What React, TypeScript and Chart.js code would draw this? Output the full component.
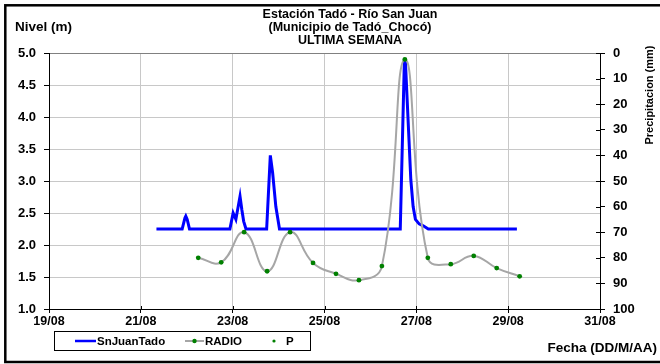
import React, { useEffect, useRef } from "react";
import { Chart, registerables } from "chart.js";

Chart.register(...registerables);

// ---- Texts ----
const titleLines = ["Estación Tadó - Río San Juan", "(Municipio de Tadó_Chocó)", "ULTIMA SEMANA"];
const leftAxisTitle = "Nivel (m)";
const rightAxisTitle = "Precipitacion (mm)";
const bottomAxisTitle = "Fecha (DD/M/AA)";

// ---- Tick labels ----
const dateTickDays = [19, 21, 23, 25, 27, 29, 31];
const dateTickLabels = ["19/08", "21/08", "23/08", "25/08", "27/08", "29/08", "31/08"];
const levelTickValues = [1, 1.5, 2, 2.5, 3, 3.5, 4, 4.5, 5];
const levelTickLabels = ["1.0", "1.5", "2.0", "2.5", "3.0", "3.5", "4.0", "4.5", "5.0"];
const precipTickValues = [0, 10, 20, 30, 40, 50, 60, 70, 80, 90, 100];
const precipTickLabels = ["0", "10", "20", "30", "40", "50", "60", "70", "80", "90", "100"];

// ---- Series: SnJuanTado (x = day of August, y = level m) ----
const levelDays = [
  21.34, 21.9, 21.96, 21.98, 22.01, 22.06,
  22.94, 23.01, 23.07, 23.16, 23.2, 23.24, 23.29,
  23.74, 23.82, 23.87, 23.94, 24.02,
  26.65, 26.74, 26.76, 26.88, 26.93, 26.98, 27.06, 27.15, 27.26, 29.19,
];
const levelValues = [
  2.25, 2.25, 2.42, 2.45, 2.4, 2.25,
  2.25, 2.5, 2.4, 2.76, 2.55, 2.37, 2.25,
  2.25, 3.4, 3.13, 2.6, 2.25,
  2.25, 4.9, 4.9, 3.02, 2.6, 2.4, 2.33, 2.3, 2.25, 2.25,
];

// ---- Series: RADIO ----
const radioDays = [22.25, 22.75, 23.25, 23.75, 24.25, 24.75, 25.25, 25.75, 26.25, 26.75, 27.25, 27.75, 28.25, 28.75, 29.25];
const radioValues = [1.8, 1.73, 2.2, 1.59, 2.2, 1.72, 1.55, 1.45, 1.67, 4.9, 1.8, 1.7, 1.83, 1.64, 1.51];

// ---- Series: P (no values in the period) ----
const pDays: number[] = [];
const pValues: number[] = [];

const FONT = "'Liberation Sans', Arial, sans-serif";
const BLUE = "#0000FF";
const GRAY = "#A6A6A6";
const GREEN = "#008000";

const labelFor = (values: number[], labels: string[], v: number) => {
  const i = values.findIndex((t) => Math.abs(t - v) < 1e-6);
  return i >= 0 ? labels[i] : "";
};

const decorPlugin = {
  id: "decor",
  beforeDraw(chart: any) {
    const ctx = chart.ctx;
    ctx.save();
    ctx.fillStyle = "#FFFFFF";
    ctx.fillRect(0, 0, chart.width, chart.height);
    ctx.restore();
  },
  afterDraw(chart: any) {
    const ctx = chart.ctx;
    const area = chart.chartArea;
    ctx.save();

    // inner tick marks (crossing ticks) on right and bottom axes
    ctx.strokeStyle = "#000";
    ctx.lineWidth = 1;
    const y1 = chart.scales.y1;
    y1.ticks.forEach((t: any) => {
      const py = Math.round(y1.getPixelForValue(t.value)) + 0.5;
      ctx.beginPath();
      ctx.moveTo(area.right - 4, py);
      ctx.lineTo(area.right, py);
      ctx.stroke();
    });
    const xs = chart.scales.x;
    xs.ticks.forEach((t: any) => {
      const px = Math.round(xs.getPixelForValue(t.value)) + 0.5;
      ctx.beginPath();
      ctx.moveTo(px, area.bottom - 3);
      ctx.lineTo(px, area.bottom);
      ctx.stroke();
    });

    ctx.fillStyle = "#000";
    // title
    ctx.font = `bold 12.5px ${FONT}`;
    ctx.textAlign = "center";
    ctx.textBaseline = "middle";
    titleLines.forEach((t, i) => ctx.fillText(t, 350, 15 + i * 13));
    // left axis title
    ctx.font = `bold 13.5px ${FONT}`;
    ctx.textAlign = "left";
    ctx.fillText(leftAxisTitle, 15, 27);
    // bottom axis title
    ctx.textAlign = "right";
    ctx.fillText(bottomAxisTitle, 657, 348);
    // right axis title (rotated)
    ctx.save();
    ctx.translate(650, 95);
    ctx.rotate(-Math.PI / 2);
    ctx.font = `bold 11px ${FONT}`;
    ctx.textAlign = "center";
    ctx.fillText(rightAxisTitle, 0, 0);
    ctx.restore();

    // legend box
    const lx = 54, ly = 331, lw = 256, lh = 19;
    ctx.fillStyle = "#FFF";
    ctx.fillRect(lx, ly, lw, lh);
    ctx.strokeStyle = "#000";
    ctx.lineWidth = 1;
    ctx.strokeRect(lx + 0.5, ly + 0.5, lw, lh);
    const my = ly + lh / 2 + 0.5;
    const ds = chart.data.datasets;
    ctx.font = `bold 11.5px ${FONT}`;
    ctx.textAlign = "left";
    ctx.textBaseline = "middle";
    // SnJuanTado
    ctx.strokeStyle = ds[0].borderColor;
    ctx.lineWidth = 2.5;
    ctx.beginPath();
    ctx.moveTo(75, my);
    ctx.lineTo(96, my);
    ctx.stroke();
    ctx.fillStyle = "#000";
    ctx.fillText(ds[0].label, 97, my + 0.5);
    // RADIO
    ctx.strokeStyle = ds[1].borderColor;
    ctx.lineWidth = 2;
    ctx.beginPath();
    ctx.moveTo(185, my);
    ctx.lineTo(204, my);
    ctx.stroke();
    ctx.fillStyle = ds[1].pointBackgroundColor;
    ctx.beginPath();
    ctx.arc(194.5, my, 2.2, 0, Math.PI * 2);
    ctx.fill();
    ctx.fillStyle = "#000";
    ctx.fillText(ds[1].label, 205, my + 0.5);
    // P
    ctx.fillStyle = ds[2].pointBackgroundColor;
    ctx.beginPath();
    ctx.arc(274, my, 1.6, 0, Math.PI * 2);
    ctx.fill();
    ctx.fillStyle = "#000";
    ctx.fillText(ds[2].label, 286, my + 0.5);

    // outer frame
    ctx.strokeStyle = "#000";
    ctx.lineWidth = 2.5;
    ctx.strokeRect(5.3, 5.3, 700, 356.7);
    ctx.restore();
  },
};

export default function App() {
  const canvasRef = useRef<HTMLCanvasElement | null>(null);

  useEffect(() => {
    const canvas = canvasRef.current;
    if (!canvas) return;
    const chart = new Chart(canvas, {
      type: "line",
      data: {
        datasets: [
          {
            label: "SnJuanTado",
            data: levelDays.map((d, i) => ({ x: d, y: levelValues[i] })),
            borderColor: BLUE,
            backgroundColor: BLUE,
            borderWidth: 3,
            pointRadius: 0,
            tension: 0,
            yAxisID: "y",
            order: 2,
          },
          {
            label: "RADIO",
            data: radioDays.map((d, i) => ({ x: d, y: radioValues[i] })),
            borderColor: GRAY,
            backgroundColor: GREEN,
            pointBackgroundColor: GREEN,
            pointBorderColor: GREEN,
            pointRadius: 2.4,
            pointBorderWidth: 0,
            borderWidth: 2,
            tension: 0.45,
            yAxisID: "y",
            order: 1,
          },
          {
            label: "P",
            data: pDays.map((d, i) => ({ x: d, y: pValues[i] })),
            showLine: false,
            borderColor: GREEN,
            backgroundColor: GREEN,
            pointBackgroundColor: GREEN,
            pointRadius: 2,
            yAxisID: "y1",
            order: 0,
          },
        ],
      },
      options: {
        responsive: false,
        animation: false,
        events: [],
        layout: { padding: { left: 0, right: 0, top: 53, bottom: 25 } },
        plugins: {
          legend: { display: false },
          title: { display: false },
          tooltip: { enabled: false },
        },
        scales: {
          x: {
            type: "linear",
            min: 19,
            max: 31,
            afterFit: (s: any) => {
              s.height = 30;
            },
            ticks: {
              stepSize: 2,
              autoSkip: false,
              maxRotation: 0,
              padding: 1,
              color: "#000",
              font: { family: FONT, size: 12.5, weight: "bold" },
              callback: (v: any) => labelFor(dateTickDays, dateTickLabels, Number(v)),
            },
            grid: { color: "#C8C8C8", tickColor: "#000", tickLength: 4, lineWidth: 1 },
            border: { color: "#000", width: 1 },
          },
          y: {
            type: "linear",
            position: "left",
            min: 1,
            max: 5,
            afterFit: (s: any) => {
              s.width = 49;
            },
            ticks: {
              stepSize: 0.5,
              padding: 8,
              color: "#000",
              font: { family: FONT, size: 13, weight: "bold" },
              callback: (v: any) => labelFor(levelTickValues, levelTickLabels, Number(v)),
            },
            grid: {
              color: (c: any) => (c.tick && c.tick.value === 5 ? "#808080" : "#C8C8C8"),
              tickColor: "#000",
              tickLength: 5,
              lineWidth: 1,
            },
            border: { color: "#000", width: 1 },
          },
          y1: {
            type: "linear",
            position: "right",
            min: 0,
            max: 100,
            reverse: true,
            afterFit: (s: any) => {
              s.width = 60;
            },
            ticks: {
              stepSize: 10,
              padding: 8,
              color: "#000",
              font: { family: FONT, size: 13, weight: "bold" },
              callback: (v: any) => labelFor(precipTickValues, precipTickLabels, Number(v)),
            },
            grid: { drawOnChartArea: false, tickColor: "#000", tickLength: 5 },
            border: { color: "#000", width: 1 },
          },
        },
      },
      plugins: [decorPlugin],
    });
    return () => chart.destroy();
  }, []);

  return (
    <div style={{ position: "absolute", left: 0, top: 0, width: 660, height: 364, background: "#fff" }}>
      <canvas ref={canvasRef} width={660} height={364} style={{ display: "block", width: 660, height: 364 }} />
    </div>
  );
}
